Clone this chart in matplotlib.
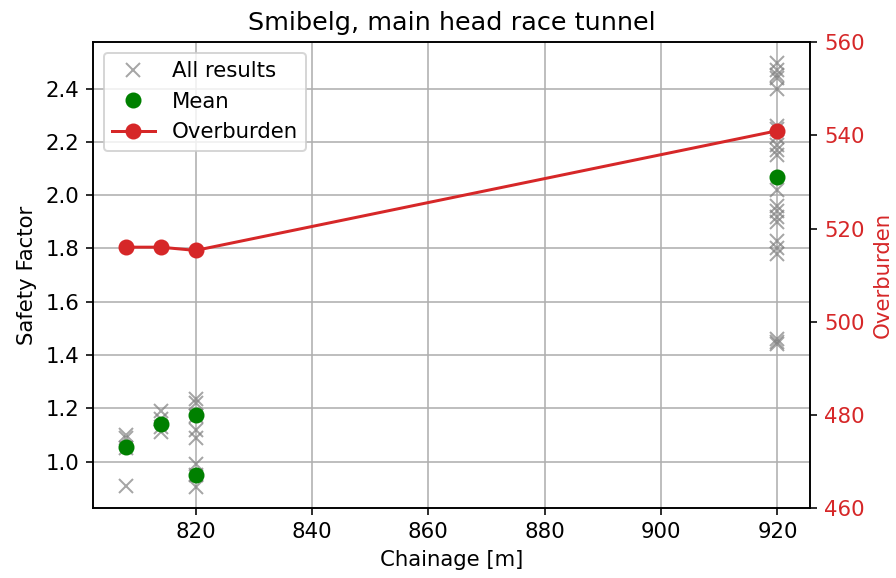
import numpy as np
import matplotlib
matplotlib.use('Agg')
import matplotlib.pyplot as plt

plt.rcParams['font.size'] = 10.6

# safety factor results
chainage_all = [808] * 4 + [814] * 4 + [820] * 8 + [920] * 22
sf_all = [1.10, 1.09, 1.05, 0.91,
          1.19, 1.16, 1.13, 1.11,
          1.235, 1.22, 1.17, 1.12, 1.09, 0.99, 0.95, 0.905,
          2.495, 2.47, 2.45, 2.44, 2.40, 2.26, 2.25, 2.22, 2.19, 2.17, 2.15,
          2.02, 1.96, 1.94, 1.92, 1.90, 1.83, 1.80, 1.78, 1.46, 1.45, 1.44]

chainage_mean = [808, 814, 820, 820, 920]
sf_mean = [1.055, 1.142, 1.175, 0.948, 2.07]

chainage_ob = [808, 814, 820, 920]
overburden = [516, 516, 515.3, 541]

fig, ax = plt.subplots(figsize=(896 / 144, 578 / 144), dpi=144)
fig.subplots_adjust(left=0.104, right=0.904, top=0.927, bottom=0.121)

l1, = ax.plot(chainage_all, sf_all, 'x', color='gray', alpha=0.7,
              markersize=7, label='All results')
l2, = ax.plot(chainage_mean, sf_mean, 'o', color='green',
              markersize=7, label='Mean')
ax.set_xlabel('Chainage [m]')
ax.set_ylabel('Safety Factor')
ax.set_title('Smibelg, main head race tunnel')
ax.grid(True)

ax2 = ax.twinx()
l3, = ax2.plot(chainage_ob, overburden, '-o', color='tab:red',
               markersize=7, label='Overburden')
ax2.set_ylim(460, 560)
ax2.set_yticks(np.arange(460, 561, 20))
ax2.set_ylabel('Overburden', color='tab:red')
ax2.tick_params(axis='y', labelcolor='tab:red')

ax.legend(handles=[l1, l2, l3], loc='upper left')

fig.savefig('out.png', dpi=144)
